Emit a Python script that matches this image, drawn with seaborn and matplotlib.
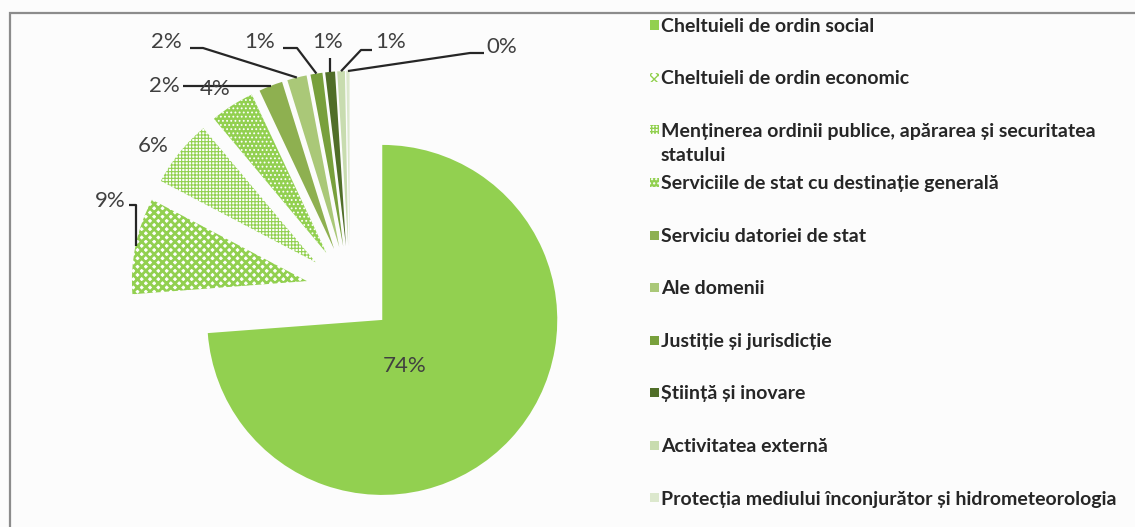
import matplotlib
matplotlib.use("Agg")
import matplotlib.pyplot as plt
import seaborn as sns
import numpy as np
from matplotlib.patches import Rectangle

sns.set_theme(style="white")
plt.rcParams['font.family'] = ['Lato', 'DejaVu Sans']

# data
categories = [
    "Cheltuieli de ordin social",
    "Cheltuieli de ordin economic",
    "Menținerea ordinii publice, apărarea și securitatea\nstatului",
    "Serviciile de stat cu destinație generală",
    "Serviciu datoriei de stat",
    "Ale domenii",
    "Justiție și jurisdicție",
    "Știință și inovare",
    "Activitatea externă",
    "Protecția mediului înconjurător și hidrometeorologia",
]
shares = [73.8, 8.9, 6.2, 4.1, 2.2, 1.8, 1.1, 0.9, 0.7, 0.3]
pct_labels = ["74%", "9%", "6%", "4%", "2%", "2%", "1%", "1%", "1%", "0%"]

face_colors = ["#92D050", "white", "white", "#92D050", "#8EB050",
               "#AAC878", "#78A03C", "#506E28", "#C8DCAF", "#DCE8CD"]
edge_colors = ["#92D050", "#92D050", "#92D050", "white", "#8EB050",
               "#AAC878", "#78A03C", "#506E28", "#C8DCAF", "#DCE8CD"]
hatches = [None, "xxxx", "+++++", "....", None, None, None, None, None, None]

W, H = 1135, 527
R_PX = 175.0
CX, CY = 350.0, 290.0


def px(x, y):
    # screen pixel (from top-left) -> data coords
    return (x - CX) / R_PX, (CY - y) / R_PX


fig = plt.figure(figsize=(W / 100, H / 100), dpi=100)
fig.patch.set_facecolor("#FCFCFC")
ax = fig.add_axes([0, 0, 1, 1])

wedges, _ = ax.pie(shares, startangle=90, counterclock=False,
                   explode=[44 / R_PX] * len(shares), radius=1,
                   wedgeprops=dict(linewidth=0))
for w, fc, ec, h in zip(wedges, face_colors, edge_colors, hatches):
    w.set_facecolor(fc)
    w.set_edgecolor(ec)
    w.set_linewidth(0)
    if h:
        w.set_hatch(h)
        if hasattr(w, "set_hatch_linewidth"):
            w.set_hatch_linewidth(2.0 if h == "xxxx" else 0.8)

ax.set_aspect("auto")
ax.set_xlim(-CX / R_PX, (W - CX) / R_PX)
ax.set_ylim(-(H - CY) / R_PX, CY / R_PX)
ax.axis("off")


def outer_mid(w):
    t = np.deg2rad((w.theta1 + w.theta2) / 2)
    return w.center[0] + w.r * np.cos(t), w.center[1] + w.r * np.sin(t)


lbl_kw = dict(fontsize=16, color="#404040", va="center")
line_kw = dict(color="#262626", lw=1.6, solid_capstyle="butt")

# 74%
ax.text(*px(405, 366), pct_labels[0], ha="center", **lbl_kw)
# 9%
wx, wy = outer_mid(wedges[1])
ax.text(*px(126, 201), pct_labels[1], ha="right", **lbl_kw)
x0, y0 = px(129, 205)
ax.plot([x0, wx, wx], [y0, y0, wy], **line_kw)
# 6%
ax.text(*px(153, 146), pct_labels[2], ha="center", **lbl_kw)
# 2% (datoria) with line over 4%
wx, wy = outer_mid(wedges[4])
ax.text(*px(180, 86), pct_labels[4], ha="right", **lbl_kw)
x0, _ = px(183, 0)
ax.plot([x0, wx], [wy, wy], **line_kw)
ax.text(*px(215, 89), pct_labels[3], ha="center", **lbl_kw)
# 2% ale domenii
wx, wy = outer_mid(wedges[5])
ax.text(*px(182, 42), pct_labels[5], ha="right", **lbl_kw)
x0, y0 = px(190, 48)
x1, _ = px(203, 48)
ax.plot([x0, x1, wx], [y0, y0, wy], **line_kw)
# 1% justitie
wx, wy = outer_mid(wedges[6])
ax.text(*px(275, 42), pct_labels[6], ha="right", **lbl_kw)
x0, y0 = px(283, 48)
x1, _ = px(297, 48)
ax.plot([x0, x1, wx], [y0, y0, wy], **line_kw)
# 1% stiinta
wx, wy = outer_mid(wedges[7])
ax.text(*px(328, 42), pct_labels[7], ha="center", **lbl_kw)
_, y0 = px(0, 58)
ax.plot([wx, wx], [y0, wy], **line_kw)
# 1% externa
wx, wy = outer_mid(wedges[8])
ax.text(*px(375, 42), pct_labels[8], ha="left", **lbl_kw)
x0, y0 = px(372, 50)
x1, _ = px(361, 50)
ax.plot([x0, x1, wx], [y0, y0, wy], **line_kw)
# 0% mediu
wx, wy = outer_mid(wedges[9])
ax.text(*px(486, 47), pct_labels[9], ha="left", **lbl_kw)
x0, y0 = px(484, 53)
x1, _ = px(470, 53)
ax.plot([x0, x1, wx], [y0, y0, wy], **line_kw)

# legend drawn as in the original (fixed row pitch)
for i, (name, fc, ec, h) in enumerate(zip(categories, face_colors, edge_colors, hatches)):
    yc = 25 + 52.5 * i
    r = Rectangle((650 / W, 1 - (yc + 4.5) / H), 9 / W, 9 / H, transform=fig.transFigure,
                  facecolor=fc, edgecolor=ec, linewidth=0, hatch=h)
    fig.add_artist(r)
    fig.text(661 / W, 1 - (yc - 7) / H, name, fontsize=14, fontweight="bold",
             color="#262626", va="top", ha="left", linespacing=1.5)

# chart frame (top and left edges visible)
frame = Rectangle((10 / W, -0.2), 1.2, 1.2 - 13 / H, transform=fig.transFigure,
                  fill=False, edgecolor="#8C8C8C", linewidth=1.6)
fig.add_artist(frame)

fig.savefig("out.png", dpi=100, facecolor=fig.get_facecolor())
